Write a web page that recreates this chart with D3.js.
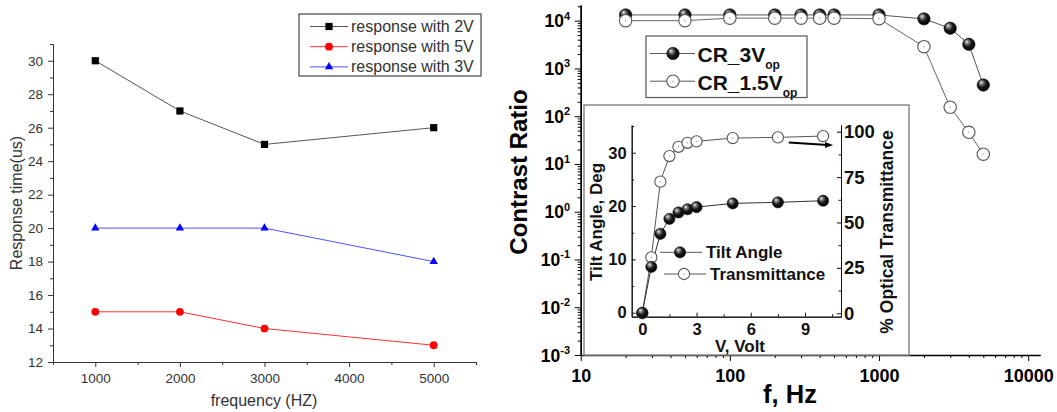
<!DOCTYPE html>
<html>
<head>
<meta charset="utf-8">
<script src="https://cdn.jsdelivr.net/npm/d3@7"></script>
<style>
  body { margin: 0; background: #fff; }
  svg { display: block; font-family: "Liberation Sans", Arial, sans-serif; }
</style>
</head>
<body>
<div id="chart"></div>
<script>
// ---- left panel: response time vs frequency
const freqs = [1000, 2000, 3000, 5000];
const resp2V = [30, 27, 25, 26];
const resp5V = [15, 15, 14, 13];
const resp3V = [20, 20, 20, 18];
const freqTicks = [1000, 2000, 3000, 4000, 5000];
const respTicks = [12, 14, 16, 18, 20, 22, 24, 26, 28, 30];

// ---- right panel: contrast ratio vs frequency (log-log)
const crFreq = [20, 50, 100, 200, 300, 400, 500, 1000, 2000, 3000, 4000, 5000];
const cr3V  = [13200, 13200, 13200, 13200, 13200, 13200, 13200, 13200, 10900, 6950, 3200, 450];
const cr15V = [10000, 10000, 11300, 11300, 11300, 11300, 11300, 11000, 2860, 154, 46, 16];
const crFreqTicks = [10, 100, 1000, 10000];
const crExp = [-3, -2, -1, 0, 1, 2, 3, 4];

// ---- inset: tilt angle / transmittance vs voltage
const volts  = [0, 0.5, 1, 1.5, 2, 2.5, 3, 5, 7.5, 10];
const tilt   = [0, 8.6, 14.8, 17.6, 18.8, 19.4, 19.8, 20.5, 20.7, 21.0];
const transm = [0, 30.8, 72.5, 86.6, 91.7, 93.9, 94.7, 96.5, 96.9, 97.6];
const voltTicks = [0, 3, 6, 9];
const tiltTicks = [0, 10, 20, 30];
const transmTicks = [0, 25, 50, 75, 100];
const arrowFrom = [8.1, 94], arrowTo = [10.55, 92.7];

const svg = d3.select("#chart").append("svg")
  .attr("width", 1057).attr("height", 412);

function styleAxis(g, size, weight, color) {
  g.attr("font-family", null).attr("font-size", size)
    .attr("font-weight", weight || "normal");
  g.selectAll("line").attr("stroke", color);
  g.select(".domain").attr("stroke", color);
  g.selectAll("text").attr("fill", color);
}
function minor(axis, vals, size) {
  return axis.tickValues(vals).tickSize(size).tickSizeOuter(0).tickFormat("");
}

// ================= LEFT PANEL =================
const xL = d3.scaleLinear().domain([500, 5500]).range([53, 476]);
const yL = d3.scaleLinear().domain([12, 31]).range([362, 44]);
const gL = svg.append("g");
const leftCol = "#333";

gL.append("g").attr("transform", "translate(0,362)")
  .call(d3.axisBottom(xL).tickValues(freqTicks).tickSize(5).tickSizeOuter(0).tickPadding(6).tickFormat(d3.format("d")))
  .call(g => styleAxis(g, 13.5, "normal", leftCol));
gL.append("g").attr("transform", "translate(0,362)")
  .call(minor(d3.axisBottom(xL), d3.range(500, 5501, 1000), 3))
  .call(g => styleAxis(g, 13.5, "normal", leftCol));
gL.append("g").attr("transform", "translate(53,0)")
  .call(d3.axisLeft(yL).tickValues(respTicks).tickSize(5).tickSizeOuter(0).tickPadding(5))
  .call(g => styleAxis(g, 13.5, "normal", leftCol));
gL.append("g").attr("transform", "translate(53,0)")
  .call(minor(d3.axisLeft(yL), d3.range(13, 32, 2), 3))
  .call(g => styleAxis(g, 13.5, "normal", leftCol));

gL.append("text").attr("transform", "translate(22,203) rotate(-90)")
  .attr("text-anchor", "middle").attr("font-size", 16).attr("fill", leftCol)
  .text("Response time(us)");
gL.append("text").attr("x", 264).attr("y", 406)
  .attr("text-anchor", "middle").attr("font-size", 16).attr("fill", leftCol)
  .text("frequency (HZ)");

const leftSeries = [
  { name: "response with 2V", vals: resp2V, line: "#555", mark: "#000", shape: "square" },
  { name: "response with 5V", vals: resp5V, line: "#ff3030", mark: "#ff0000", shape: "circle" },
  { name: "response with 3V", vals: resp3V, line: "#5050ff", mark: "#0000ff", shape: "triangle" }
];
function drawMark(g, shape, color) {
  if (shape === "square") g.append("rect").attr("x", -3.6).attr("y", -3.6).attr("width", 7.2).attr("height", 7.2).attr("fill", color);
  else if (shape === "circle") g.append("circle").attr("r", 3.9).attr("fill", color);
  else g.append("path").attr("d", d3.symbol(d3.symbolTriangle, 30)()).attr("fill", color);
}
const lineL = d3.line().x((d, i) => xL(freqs[i])).y(d => yL(d));
leftSeries.forEach(s => {
  gL.append("path").attr("d", lineL(s.vals)).attr("fill", "none")
    .attr("stroke", s.line).attr("stroke-width", 1);
  s.vals.forEach((v, i) => {
    drawMark(gL.append("g").attr("transform", `translate(${xL(freqs[i])},${yL(v)})`), s.shape, s.mark);
  });
});

// legend
const legL = gL.append("g").attr("transform", "translate(299,14)");
legL.append("rect").attr("width", 182).attr("height", 62)
  .attr("fill", "#fff").attr("stroke", "#444").attr("stroke-width", 1.2);
leftSeries.forEach((s, i) => {
  const row = legL.append("g").attr("transform", `translate(0,${12.5 + i * 20.2})`);
  row.append("line").attr("x1", 11).attr("x2", 49).attr("stroke", s.line);
  drawMark(row.append("g").attr("transform", "translate(30,0)"), s.shape, s.mark);
  row.append("text").attr("x", 52).attr("y", 5.5).attr("font-size", 16)
    .attr("fill", leftCol).text(s.name);
});

// ================= RIGHT PANEL =================
const xF = d3.scaleLog().domain([10, 12000]).range([580.7, 1040]);
const yC = d3.scaleLog().domain([1e-3, 21300]).range([355, 5]);
const gR = svg.append("g");

const defs = svg.append("defs");
const ball = defs.append("radialGradient").attr("id", "ball")
  .attr("cx", "45%").attr("cy", "42%").attr("r", "60%")
  .attr("fx", "32%").attr("fy", "28%");
ball.append("stop").attr("offset", "0%").attr("stop-color", "#f4f4f4");
ball.append("stop").attr("offset", "22%").attr("stop-color", "#8a8a8a");
ball.append("stop").attr("offset", "55%").attr("stop-color", "#1a1a1a");
ball.append("stop").attr("offset", "100%").attr("stop-color", "#000");

function filledBall(g, x, y, r) {
  g.append("circle").attr("cx", x).attr("cy", y).attr("r", r)
    .attr("fill", "url(#ball)").attr("stroke", "#111").attr("stroke-width", 0.6);
}
function openBall(g, x, y, r) {
  g.append("circle").attr("cx", x).attr("cy", y).attr("r", r)
    .attr("fill", "#fff").attr("stroke", "#555").attr("stroke-width", 1.1);
  g.append("circle").attr("cx", x).attr("cy", y).attr("r", 0.8).attr("fill", "#aaa");
}

// axes
const xMinorF = [];
[10, 100, 1000].forEach(b => { for (let k = 2; k <= 9; k++) xMinorF.push(b * k); });
const yMinorC = [];
crExp.slice(0, -1).forEach(e => { for (let k = 2; k <= 9; k++) yMinorC.push(k * Math.pow(10, e)); });
yMinorC.push(2e4);

gR.append("g").attr("transform", "translate(0,355)")
  .call(d3.axisBottom(xF).tickValues(crFreqTicks).tickSize(6).tickSizeOuter(0).tickPadding(8).tickFormat(d3.format("d")))
  .call(g => styleAxis(g, 18, "bold", "#000"))
  .call(g => g.select(".domain").attr("stroke-width", 1.6));
gR.append("g").attr("transform", "translate(0,355)")
  .call(minor(d3.axisBottom(xF), xMinorF, 3))
  .call(g => styleAxis(g, 18, "bold", "#000"));
gR.append("g").attr("transform", "translate(580.7,0)")
  .call(d3.axisLeft(yC).tickValues(crExp.map(e => Math.pow(10, e))).tickSize(6).tickSizeOuter(0).tickFormat(""))
  .call(g => styleAxis(g, 18, "bold", "#000"))
  .call(g => g.select(".domain").attr("stroke-width", 1.6));
gR.append("g").attr("transform", "translate(580.7,0)")
  .call(minor(d3.axisLeft(yC), yMinorC, 3))
  .call(g => styleAxis(g, 18, "bold", "#000"));

const yLab = gR.selectAll(".ylab").data(crExp).join("text")
  .attr("class", "ylab").attr("x", 570).attr("y", d => yC(Math.pow(10, d)) + 6.5)
  .attr("text-anchor", "end").attr("font-weight", "bold").attr("font-size", 17.5);
yLab.append("tspan").text("10");
yLab.append("tspan").attr("dy", -7.5).attr("font-size", 11).text(d => String(d));

gR.append("text").attr("transform", "translate(527,172) rotate(-90)")
  .attr("text-anchor", "middle").attr("font-size", 24).attr("font-weight", "bold")
  .text("Contrast Ratio");
gR.append("text").attr("x", 790).attr("y", 403)
  .attr("text-anchor", "middle").attr("font-size", 25.5).attr("font-weight", "bold")
  .text("f, Hz");

// series
const lineF = d3.line().x((d, i) => xF(crFreq[i])).y(d => yC(d));
gR.append("path").attr("d", lineF(cr3V)).attr("fill", "none").attr("stroke", "#555").attr("stroke-width", 1);
gR.append("path").attr("d", lineF(cr15V)).attr("fill", "none").attr("stroke", "#666").attr("stroke-width", 1);
cr3V.forEach((v, i) => filledBall(gR, xF(crFreq[i]), yC(v), 6.2));
cr15V.forEach((v, i) => openBall(gR, xF(crFreq[i]), yC(v), 6.2));

// legend
const legR = gR.append("g").attr("transform", "translate(646,36)");
legR.append("rect").attr("width", 161).attr("height", 61.5)
  .attr("fill", "#fff").attr("stroke", "#555").attr("stroke-width", 1.2);
[{ t: "CR_3V", filled: true }, { t: "CR_1.5V", filled: false }].forEach((s, i) => {
  const y = 17.5 + i * 27.7;
  legR.append("line").attr("x1", 4).attr("x2", 49).attr("y1", y).attr("y2", y).attr("stroke", "#555");
  if (s.filled) filledBall(legR, 27, y, 6.2); else openBall(legR, 27, y, 6.2);
  const tx = legR.append("text").attr("x", 51.5).attr("y", y + 8.3)
    .attr("font-size", 21).attr("font-weight", "bold").attr("fill", "#111");
  tx.append("tspan").text(s.t);
  tx.append("tspan").attr("dy", 7).attr("font-size", 12).text("op");
});

// ================= INSET =================
const gI = svg.append("g");
gI.append("rect").attr("x", 584).attr("y", 105).attr("width", 325).attr("height", 250)
  .attr("fill", "#fff").attr("stroke", "#888").attr("stroke-width", 1.5);

const xV = d3.scaleLinear().domain([-0.586, 10.99]).range([631.7, 841]);
const yT = d3.scaleLinear().domain([-0.75, 35.2]).range([316.7, 125]);
const yP = d3.scaleLinear().domain([-1.9, 103.7]).range([316.7, 125]);

// inset ticks point inwards
gI.append("g").attr("transform", "translate(0,316.7)")
  .call(d3.axisBottom(xV).tickValues(voltTicks).tickSize(-4).tickSizeOuter(0).tickPadding(7))
  .call(g => styleAxis(g, 16.5, "bold", "#111"));
gI.append("g").attr("transform", "translate(0,316.7)")
  .call(minor(d3.axisBottom(xV), [1.5, 4.5, 7.5, 10.5], -2.5))
  .call(g => styleAxis(g, 16.5, "bold", "#111"));
gI.append("g").attr("transform", "translate(631.7,0)")
  .call(d3.axisLeft(yT).tickValues(tiltTicks).tickSize(-4).tickSizeOuter(0).tickPadding(5))
  .call(g => styleAxis(g, 16.5, "bold", "#111"));
gI.append("g").attr("transform", "translate(631.7,0)")
  .call(minor(d3.axisLeft(yT), [5, 15, 25, 35], -2.5))
  .call(g => styleAxis(g, 16.5, "bold", "#111"));
gI.append("g").attr("transform", "translate(841,0)")
  .call(d3.axisRight(yP).tickValues(transmTicks).tickSize(-4).tickSizeOuter(0).tickPadding(3))
  .call(g => styleAxis(g, 18.5, "bold", "#111"));
gI.append("g").attr("transform", "translate(841,0)")
  .call(minor(d3.axisRight(yP), [12.5, 37.5, 62.5, 87.5], -2.5))
  .call(g => styleAxis(g, 18.5, "bold", "#111"));

gI.append("text").attr("transform", "translate(601.5,222) rotate(-90)")
  .attr("text-anchor", "middle").attr("font-size", 17).attr("font-weight", "bold").attr("fill", "#111")
  .text("Tilt Angle, Deg");
gI.append("text").attr("transform", "translate(893,232) rotate(-90)")
  .attr("text-anchor", "middle").attr("font-size", 17.5).attr("font-weight", "bold").attr("fill", "#111")
  .text("% Optical Transmittance");
gI.append("text").attr("x", 740).attr("y", 352)
  .attr("text-anchor", "middle").attr("font-size", 17).attr("font-weight", "bold").attr("fill", "#111")
  .text("V, Volt");

const lineT = d3.line().x((d, i) => xV(volts[i])).y(d => yT(d));
const lineP = d3.line().x((d, i) => xV(volts[i])).y(d => yP(d));
gI.append("path").attr("d", lineP(transm)).attr("fill", "none").attr("stroke", "#555").attr("stroke-width", 1);
gI.append("path").attr("d", lineT(tilt)).attr("fill", "none").attr("stroke", "#333").attr("stroke-width", 1);
transm.forEach((v, i) => openBall(gI, xV(volts[i]), yP(v), 5.6));
tilt.forEach((v, i) => filledBall(gI, xV(volts[i]), yT(v), 5.6));

// arrow to the right axis
const ax1 = xV(arrowFrom[0]), ay1 = yP(arrowFrom[1]);
const ax2 = xV(arrowTo[0]), ay2 = yP(arrowTo[1]);
gI.append("line").attr("x1", ax1).attr("y1", ay1).attr("x2", ax2 - 5).attr("y2", ay2)
  .attr("stroke", "#000").attr("stroke-width", 2);
gI.append("path").attr("d", `M${ax2},${ay2} L${ax2 - 8},${ay2 - 3} L${ax2 - 8},${ay2 + 3} Z`).attr("fill", "#000");

// inset legend
[{ t: "Tilt Angle", filled: true, y: 252.3, x: 680 }, { t: "Transmittance", filled: false, y: 274, x: 684 }].forEach(s => {
  gI.append("line").attr("x1", s.x - 20).attr("x2", s.x + 22).attr("y1", s.y).attr("y2", s.y).attr("stroke", "#555");
  if (s.filled) filledBall(gI, s.x, s.y, 5.6); else openBall(gI, s.x, s.y, 5.6);
  gI.append("text").attr("x", s.x + 26).attr("y", s.y + 6)
    .attr("font-size", 17).attr("font-weight", "bold").attr("fill", "#111").text(s.t);
});
</script>
</body>
</html>
